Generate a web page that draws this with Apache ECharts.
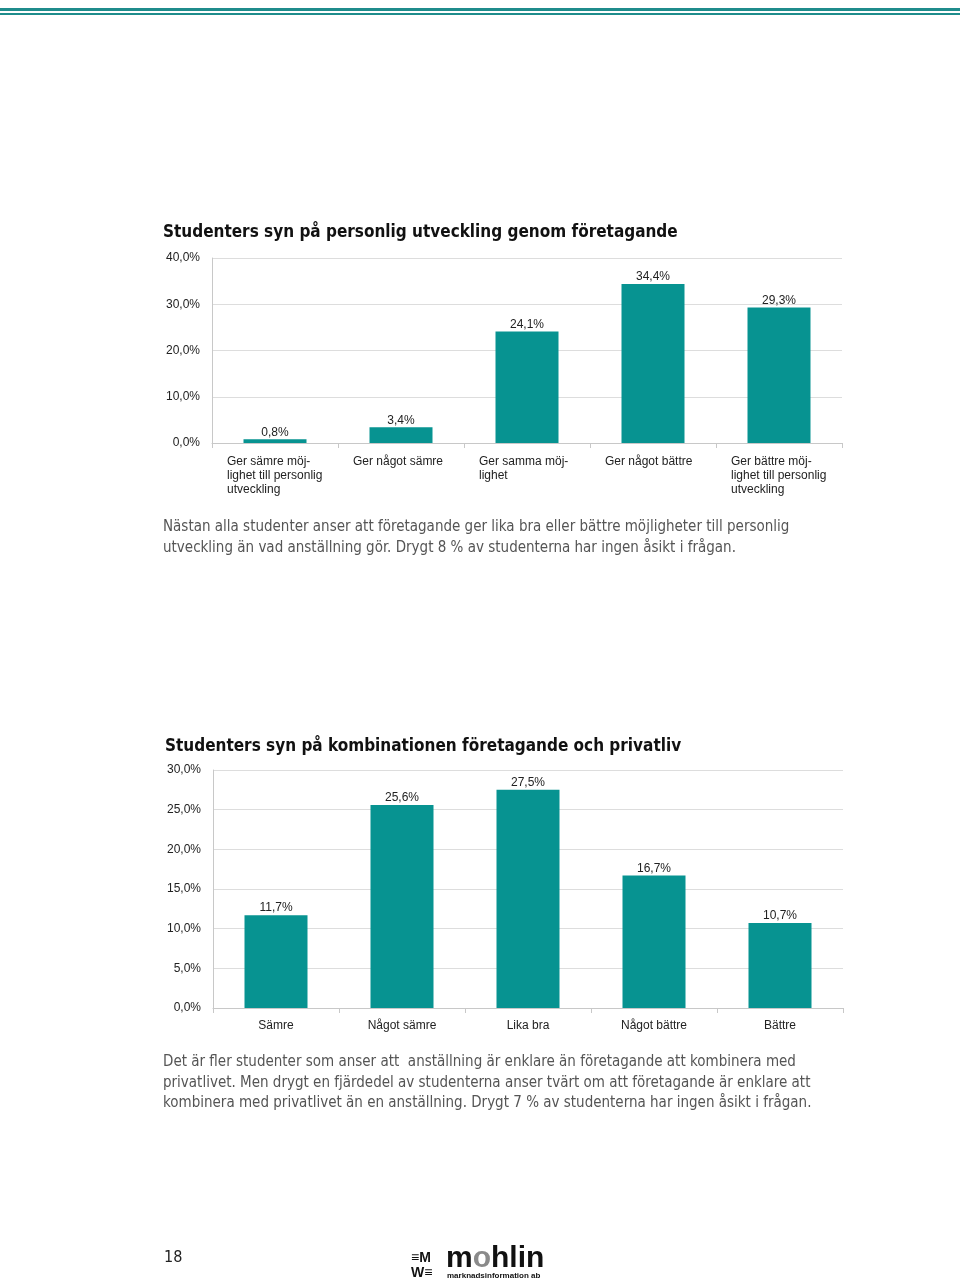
<!DOCTYPE html>
<html><head><meta charset="utf-8">
<script src="https://cdn.jsdelivr.net/npm/echarts@6/dist/echarts.min.js"></script>
<style>html,body{margin:0;padding:0;background:#fff}#c{width:960px;height:1281px}</style>
</head><body><div id="c"></div>
<script>
// ---- data ----
const title1 = 'Studenters syn på personlig utveckling genom företagande';
const cats1 = ['Ger sämre möj-\nlighet till personlig\nutveckling', 'Ger något sämre', 'Ger samma möj-\nlighet', 'Ger något bättre', 'Ger bättre möj-\nlighet till personlig\nutveckling'];
const vals1 = [0.8, 3.4, 24.1, 34.4, 29.3];
const text1 = ['Nästan alla studenter anser att företagande ger lika bra eller bättre möjligheter till personlig', 'utveckling än vad anställning gör. Drygt 8 % av studenterna har ingen åsikt i frågan.'];

const title2 = 'Studenters syn på kombinationen företagande och privatliv';
const cats2 = ['Sämre', 'Något sämre', 'Lika bra', 'Något bättre', 'Bättre'];
const vals2 = [11.7, 25.6, 27.5, 16.7, 10.7];
const text2 = ['Det är fler studenter som anser att  anställning är enklare än företagande att kombinera med', 'privatlivet. Men drygt en fjärdedel av studenterna anser tvärt om att företagande är enklare att', 'kombinera med privatlivet än en anställning. Drygt 7 % av studenterna har ingen åsikt i frågan.'];
const pageNo = '18';

// ---- styling ----
const TEAL = '#079391';
const LBL = 'Liberation Sans, Arial, sans-serif';
const COND = '"DejaVu Sans Condensed", "Liberation Sans Narrow", sans-serif';
const pct = v => v.toFixed(1).replace('.', ',') + '%';

function yAxis(gi, max, interval) {
  return {
    type: 'value', gridIndex: gi, min: 0, max: max, interval: interval,
    axisLine: {show: true, lineStyle: {color: '#c8c8c8'}},
    axisTick: {show: false},
    splitLine: {lineStyle: {color: '#dddddd'}},
    axisLabel: {formatter: pct, color: '#222', fontFamily: LBL, fontSize: 12, margin: 12}
  };
}
function xAxis(gi, cats, rich, margin) {
  const lab = {color: '#222', fontFamily: LBL, fontSize: 12, margin: margin, interval: 0, lineHeight: 14};
  if (rich) {
    lab.formatter = v => v.split('\n').map(l => '{l|' + l + '}').join('\n');
    lab.rich = {l: {width: 96, align: 'left', fontFamily: LBL, fontSize: 12, lineHeight: 14, color: '#222'}};
  }
  return {
    type: 'category', gridIndex: gi, data: cats,
    axisLine: {lineStyle: {color: '#c8c8c8'}},
    axisTick: {show: true, length: 5, lineStyle: {color: '#c8c8c8'}},
    axisLabel: lab
  };
}
function barSeries(i, vals) {
  return {
    type: 'bar', xAxisIndex: i, yAxisIndex: i, data: vals, barWidth: '50%',
    itemStyle: {color: TEAL}, silent: true,
    label: {show: true, position: 'top', distance: 1, formatter: p => pct(p.value), color: '#222', fontFamily: LBL, fontSize: 12}
  };
}
function para(lines, x, y0) {
  return lines.map((t, k) => ({type: 'text', left: x, top: y0 + k * 20.5,
    style: {text: t, fill: '#555', font: '15px ' + COND}}));
}

const chart = echarts.init(document.getElementById('c'), null, {renderer: 'canvas'});
chart.setOption({
  animation: false,
  grid: [
    {left: 212, right: 118, top: 258, height: 185},
    {left: 213, right: 117, top: 770, height: 238}
  ],
  xAxis: [xAxis(0, cats1, true, 12), xAxis(1, cats2, false, 11)],
  yAxis: [yAxis(0, 40, 10), yAxis(1, 30, 5)],
  series: [barSeries(0, vals1), barSeries(1, vals2)],
  graphic: [
    {type: 'rect', left: 0, top: 8, shape: {width: 960, height: 3}, style: {fill: '#1f8c8c'}},
    {type: 'rect', left: 0, top: 13, shape: {width: 960, height: 2}, style: {fill: '#1f8c8c'}},
    {type: 'text', left: 163, top: 224, style: {text: title1, fill: '#111', font: 'bold 17px ' + COND}},
    {type: 'text', left: 165, top: 738, style: {text: title2, fill: '#111', font: 'bold 17px ' + COND}},
    ...para(text1, 163, 520),
    ...para(text2, 163, 1055),
    {type: 'text', left: 164, top: 1250, style: {text: pageNo, fill: '#222', font: '16px ' + COND}},
    {type: 'text', left: 411, top: 1251, style: {text: '≡M\nW≡', fill: '#111', font: 'bold 14px ' + LBL, lineHeight: 15}},
    {type: 'text', left: 446, top: 1244, style: {
      text: '{a|m}{b|o}{a|hlin}', rich: {a: {fill: '#111', font: 'bold 30px ' + LBL}, b: {fill: '#8a8a8a', font: 'bold 30px ' + LBL}}}},
    {type: 'text', left: 447, top: 1272, style: {text: 'marknadsinformation ab', fill: '#111', font: 'bold 8px ' + LBL}}
  ]
});
</script></body></html>
